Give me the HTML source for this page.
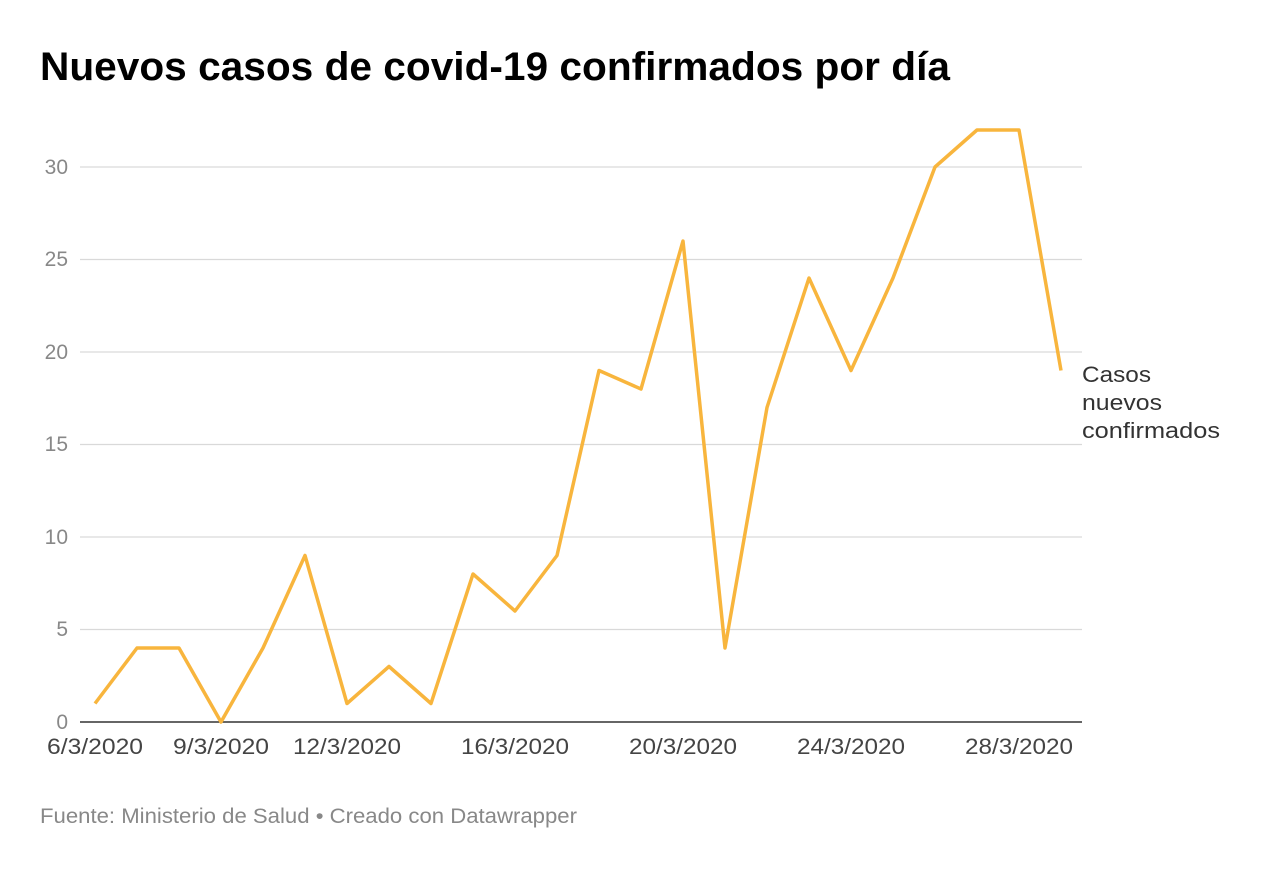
<!DOCTYPE html>
<html><head><meta charset="utf-8"><style>
html,body{margin:0;padding:0;background:#fff;width:1280px;height:880px;overflow:hidden}
svg{display:block}
</style></head><body>
<svg width="1280" height="880" xmlns="http://www.w3.org/2000/svg" font-family="Liberation Sans, sans-serif">
<text x="40" y="80" font-size="40" font-weight="bold" fill="#000" textLength="910" lengthAdjust="spacingAndGlyphs">Nuevos casos de covid-19 confirmados por día</text>
<g stroke="#d9d9d9" stroke-width="1.2">
<line x1="80" x2="1082" y1="167" y2="167"/>
<line x1="80" x2="1082" y1="259.5" y2="259.5"/>
<line x1="80" x2="1082" y1="352" y2="352"/>
<line x1="80" x2="1082" y1="444.5" y2="444.5"/>
<line x1="80" x2="1082" y1="537" y2="537"/>
<line x1="80" x2="1082" y1="629.5" y2="629.5"/>
</g>
<line x1="80" x2="1082" y1="722" y2="722" stroke="#333" stroke-width="1.5"/>
<g font-size="21" fill="#888" text-anchor="end">
<text x="68" y="174">30</text>
<text x="68" y="266">25</text>
<text x="68" y="359">20</text>
<text x="68" y="451">15</text>
<text x="68" y="544">10</text>
<text x="68" y="636">5</text>
<text x="68" y="729">0</text>
</g>
<g font-size="22" fill="#444" text-anchor="middle">
<text x="95" y="754" textLength="96" lengthAdjust="spacingAndGlyphs">6/3/2020</text>
<text x="221" y="754" textLength="96" lengthAdjust="spacingAndGlyphs">9/3/2020</text>
<text x="347" y="754" textLength="108" lengthAdjust="spacingAndGlyphs">12/3/2020</text>
<text x="515" y="754" textLength="108" lengthAdjust="spacingAndGlyphs">16/3/2020</text>
<text x="683" y="754" textLength="108" lengthAdjust="spacingAndGlyphs">20/3/2020</text>
<text x="851" y="754" textLength="108" lengthAdjust="spacingAndGlyphs">24/3/2020</text>
<text x="1019" y="754" textLength="108" lengthAdjust="spacingAndGlyphs">28/3/2020</text>
</g>
<polyline fill="none" stroke="#f8b53d" stroke-width="3.5" stroke-linejoin="round" points="95,703.5 137,648 179,648 221,722 263,648 305,555.5 347,703.5 389,666.5 431,703.5 473,574 515,611 557,555.5 599,370.5 641,389 683,241 725,648 767,407.5 809,278 851,370.5 893,278 935,167 977,130 1019,130 1061,370.5"/>
<g font-size="22" fill="#333">
<text x="1082" y="382" textLength="69" lengthAdjust="spacingAndGlyphs">Casos</text>
<text x="1082" y="410" textLength="80" lengthAdjust="spacingAndGlyphs">nuevos</text>
<text x="1082" y="438" textLength="138" lengthAdjust="spacingAndGlyphs">confirmados</text>
</g>
<text x="40" y="823" font-size="21" fill="#888" textLength="537" lengthAdjust="spacingAndGlyphs">Fuente: Ministerio de Salud • Creado con Datawrapper</text>
</svg>
</body></html>
